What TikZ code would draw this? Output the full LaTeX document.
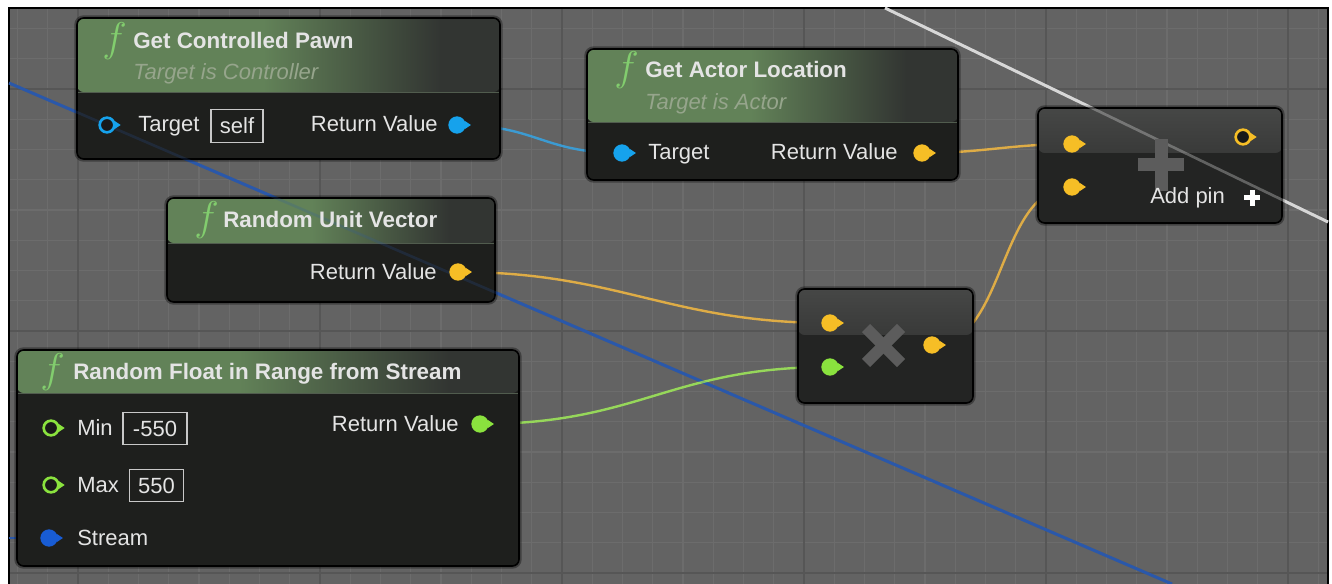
\documentclass[tikz,border=0pt]{standalone}
\usepackage{fontspec}
\setmainfont{Liberation Sans}
\usetikzlibrary{calc,fit}
\pgfdeclarelayer{bg}
\pgfdeclarelayer{wires}
\pgfsetlayers{bg,wires,main}
\definecolor{canvas}{RGB}{99,99,99}
\definecolor{gridminor}{RGB}{108,108,108}
\definecolor{gridmajor}{RGB}{86,86,86}
\definecolor{body}{RGB}{30,31,29}
\definecolor{cbody}{RGB}{35,36,35}
\definecolor{cA}{RGB}{70,71,70}
\definecolor{cB}{RGB}{37,38,37}
\definecolor{hdrA}{RGB}{98,130,88}
\definecolor{hdrB}{RGB}{50,53,50}
\definecolor{txt}{RGB}{228,228,228}
\definecolor{subc}{RGB}{150,165,140}
\definecolor{fgreen}{RGB}{130,205,110}
\definecolor{pblue}{RGB}{22,162,236}
\definecolor{porange}{RGB}{246,190,38}
\definecolor{pgreen}{RGB}{138,226,62}
\definecolor{pstream}{RGB}{24,92,212}
\definecolor{wblue}{RGB}{60,155,210}
\definecolor{worange}{RGB}{222,172,70}
\definecolor{wgreen}{RGB}{150,215,90}
\definecolor{diagblue}{RGB}{42,88,170}
\definecolor{diagwhite}{RGB}{215,215,215}
\definecolor{symgray}{RGB}{92,92,92}
\definecolor{boxc}{RGB}{200,200,200}
\definecolor{hole}{RGB}{25,25,25}
\pgfdeclarehorizontalshading{hdrshade}{100bp}{color(0bp)=(hdrA); color(47bp)=(hdrA); color(68bp)=(hdrB); color(100bp)=(hdrB)}
\newcommand{\parr}[2]{\fill[#2] ($(#1.east)+(-1,-4)$) -- ($(#1.east)+(5,0)$) -- ($(#1.east)+(-1,4)$) -- cycle;}
\tikzset{
  bp/.style={draw=black, line width=1.2pt, fill=body, rounded corners=5pt, inner sep=0pt,
    preaction={draw=black, opacity=0.35, line width=4pt}},
  hdr/.style={path picture={
    \shade[shading=hdrshade] (path picture bounding box.north west) rectangle ($(path picture bounding box.north east)+(0,#1)$);
    \draw[hdrA!70!white, opacity=0.45, line width=0.6pt] ($(path picture bounding box.north west)+(0,#1)$) -- ($(path picture bounding box.north east)+(0,#1)$);}},
  cp/.style={bp, fill=cbody, path picture={
    \shade[top color=cA, bottom color=cB] (path picture bounding box.north west) rectangle ($(path picture bounding box.north east)+(0,#1)$);}},
  fsym/.style={font=\fontsize{22}{22}\selectfont, text=fgreen, anchor=base west, inner sep=0pt},
  ttl/.style={font=\fontsize{16.8}{19}\selectfont\bfseries, text=txt, anchor=base west, inner sep=0pt},
  sub/.style={font=\fontsize{16.5}{19}\selectfont\itshape, text=subc, anchor=base west, inner sep=0pt},
  lbl/.style={font=\fontsize{16.5}{19}\selectfont, text=txt, anchor=base west, inner sep=0pt},
  lblr/.style={lbl, anchor=base east},
  valbox/.style={draw=boxc, line width=0.9pt, inner sep=0pt, minimum height=24.5pt, text height=12pt, text depth=0pt,
    font=\fontsize{16.5}{19}\selectfont, text=txt},
  pinF/.style={circle, fill=#1, minimum size=13pt, inner sep=0pt},
  pinH/.style={circle, draw=#1, line width=2pt, fill=hole, minimum size=11pt, inner sep=0pt},
  wire/.style={line width=1.8pt, #1},
}
\begin{document}
\begin{tikzpicture}[x=0.75pt,y=-0.75pt]
\useasboundingbox (0,0) rectangle (1332,584);
\begin{pgfonlayer}{bg}
\fill[white] (0,0) rectangle (1332,584);
\fill[canvas] (9,8) rectangle (1328,584);
\begin{scope}
\clip (9,8) rectangle (1328,584);
\foreach \k in {-2,...,41} \draw[gridminor, line width=1.1pt] ({78+30.25*\k},8) -- ({78+30.25*\k},584);
\foreach \k in {-2,...,16} \draw[gridminor, line width=1.1pt] (9,{89+30.25*\k}) -- (1328,{89+30.25*\k});
\foreach \k in {0,...,5} \draw[gridmajor, line width=1.6pt] ({78+242*\k},8) -- ({78+242*\k},584);
\foreach \k in {0,1,2} \draw[gridmajor, line width=1.6pt] (9,{89+242*\k}) -- (1328,{89+242*\k});
\end{scope}
\draw[black, line width=2pt] (9,584) -- (9,8) -- (1328,8) -- (1328,584);
\coordinate (bA) at (9,83);
\coordinate (bB) at (1172,584);
\coordinate (wA) at (885,8);
\coordinate (wB) at (1328,222);
\coordinate (sA) at (9,538);
\draw[diagblue, line width=2.2pt] (bA) -- (bB);
\draw[diagwhite, line width=2.2pt] (wA) -- (wB);
\end{pgfonlayer}

% node boxes
\node[bp, hdr=74, fit={(77,18) (500,159)}] (gcp) {};
\node[bp, hdr=73, fit={(587,49) (958,180)}] (gal) {};
\node[bp, hdr=45, fit={(167,198) (495,302)}] (ruv) {};
\node[bp, hdr=43, fit={(17,350) (519,566)}] (rfr) {};
\node[cp=45, fit={(1038,108) (1282,223)}] (add) {};
\node[cp=46, fit={(798,289) (973,403)}] (mul) {};

% faint lines seen through the nodes
\draw[diagblue, line width=2pt, opacity=0.2] (bA) -- (bB);
\draw[diagwhite, line width=2pt, opacity=0.35] (wA) -- (wB);

% symbols
\fill[symgray] (1155,139) rectangle (1168,191);
\fill[symgray] (1138,158) rectangle (1184,171);
\draw[symgray, line width=8.5pt] (866,328) -- (901,363);
\draw[symgray, line width=8.5pt] (866,363) -- (901,328);
\fill[white] (1249.5,190) rectangle (1254.5,206);
\fill[white] (1244,195.5) rectangle (1260,200.5);

% Get Controlled Pawn
\node[fsym] (gcpF) at (102,52) {\scalebox{1.5}{$f$}};
\node[ttl] (gcpT) at (133,49) {Get Controlled Pawn};
\node[sub] (gcpS) at (133,80) {Target is Controller};
\node[pinH=pblue] (gcpTgt) at (107,125) {};
\parr{gcpTgt}{pblue}
\node[lbl] (gcpTgtL) at (138,132) {Target};
\node[valbox, minimum width=39pt] (gcpSelf) at (237,126) {self};
\node[lblr] (gcpRetL) at (438,132) {Return Value};
\node[pinF=pblue] (gcpRet) at (457,125) {};
\parr{gcpRet}{pblue}

% Get Actor Location
\node[fsym] (galF) at (614,81) {\scalebox{1.5}{$f$}};
\node[ttl] (galT) at (645,78) {Get Actor Location};
\node[sub] (galS) at (645,110) {Target is Actor};
\node[pinF=pblue] (galTgt) at (622,153) {};
\parr{galTgt}{pblue}
\node[lbl] (galTgtL) at (648,160) {Target};
\node[lblr] (galRetL) at (898,160) {Return Value};
\node[pinF=porange] (galRet) at (922,153) {};
\parr{galRet}{porange}

% Random Unit Vector
\node[fsym] (ruvF) at (194,231) {\scalebox{1.5}{$f$}};
\node[ttl] (ruvT) at (223,228) {Random Unit Vector};
\node[lblr] (ruvRetL) at (437,280) {Return Value};
\node[pinF=porange] (ruvRet) at (458,272) {};
\parr{ruvRet}{porange}

% Random Float in Range from Stream
\node[fsym] (rfrF) at (40,383) {\scalebox{1.5}{$f$}};
\node[ttl] (rfrT) at (73,380) {Random Float in Range from Stream};
\node[pinH=pgreen] (rfrMin) at (51,428) {};
\parr{rfrMin}{pgreen}
\node[lbl] (rfrMinL) at (77,436) {Min};
\node[valbox, minimum width=48pt] (rfrMinV) at (155,428.5) {-550};
\node[pinH=pgreen] (rfrMax) at (51,485) {};
\parr{rfrMax}{pgreen}
\node[lbl] (rfrMaxL) at (77,493) {Max};
\node[valbox, minimum width=41pt] (rfrMaxV) at (156.5,485.5) {550};
\node[pinF=pstream] (rfrStr) at (49,538) {};
\parr{rfrStr}{pstream}
\node[lbl] (rfrStrL) at (77,546) {Stream};
\node[lblr] (rfrRetL) at (459,432) {Return Value};
\node[pinF=pgreen] (rfrRet) at (480,424) {};
\parr{rfrRet}{pgreen}

% Multiply
\node[pinF=porange] (mulA) at (830,323) {};
\parr{mulA}{porange}
\node[pinF=pgreen] (mulB) at (830,367) {};
\parr{mulB}{pgreen}
\node[pinF=porange] (mulOut) at (932,345) {};
\parr{mulOut}{porange}

% Add
\node[pinF=porange] (addA) at (1072,144) {};
\parr{addA}{porange}
\node[pinF=porange] (addB) at (1072,187) {};
\parr{addB}{porange}
\node[pinH=porange] (addOut) at (1243,137) {};
\parr{addOut}{porange}
\node[lbl] (addPinL) at (1150,204) {Add pin};

% wires
\begin{pgfonlayer}{wires}
\draw[wire=wblue] (gcpRet.center) .. controls +(80,0) and +(-80,0) .. (galTgt.center);
\draw[wire=worange] (galRet.center) .. controls +(60,0) and +(-60,0) .. (addA.center);
\draw[wire=worange] (ruvRet.center) .. controls +(160,0) and +(-160,0) .. (mulA.center);
\draw[wire=wgreen] (rfrRet.center) .. controls +(160,0) and +(-160,0) .. (mulB.center);
\draw[wire=worange] (mulOut.center) .. controls +(75,0) and +(-75,0) .. (addB.center);
\draw[diagblue, line width=2pt] (sA) -- (rfrStr.center);
\end{pgfonlayer}
\end{tikzpicture}
\end{document}
